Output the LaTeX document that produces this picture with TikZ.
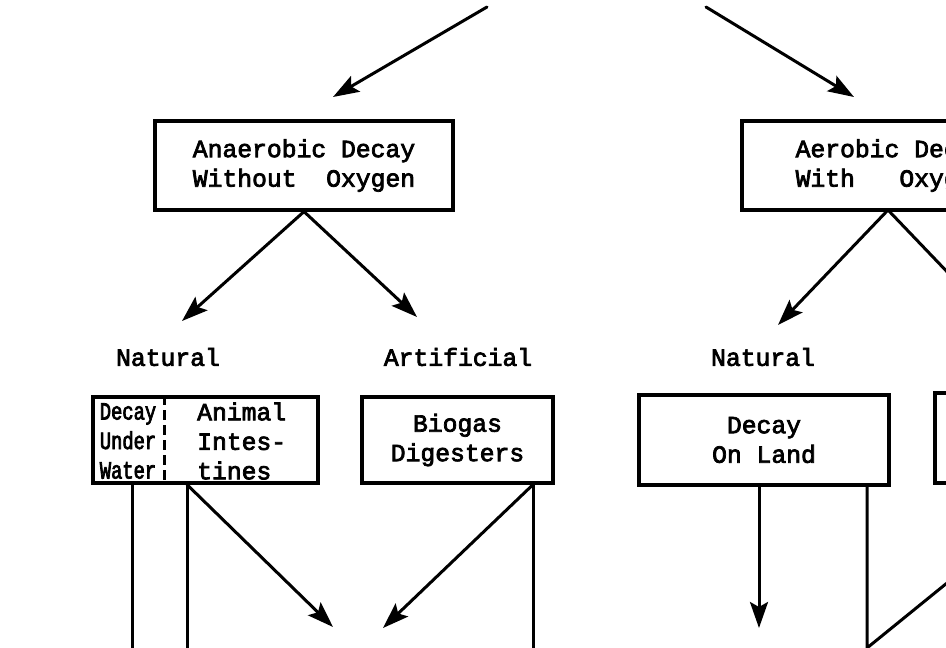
\documentclass[tikz,border=0pt]{standalone}
\usepackage{fontspec}
\setmonofont{Liberation Mono}
\newfontfamily\tyfam[FakeBold=3]{Liberation Mono}
\newfontfamily\tynarrow[FakeBold=3,FakeStretch=0.76]{Liberation Mono}
\usetikzlibrary{arrows.meta}
\newcommand{\tyfont}{\tyfam\fontsize{24.7pt}{29.5pt}\selectfont}
\newcommand{\tynfont}{\tynarrow\fontsize{24.7pt}{29.5pt}\selectfont}
\begin{document}
\begin{tikzpicture}[x=1pt,y=-1pt,
  conn/.style={line width=3pt, line cap=round},
  arr/.style={conn, -{Stealth[length=26pt,width=18pt,inset=5pt]}},
  box/.style={draw, line width=3.2pt, font=\tyfont, align=center, inner sep=0pt},
  lbl/.style={font=\tyfont, inner sep=0pt},
  divider/.style={line width=3pt, dash pattern=on 10pt off 5pt}]
\useasboundingbox (0,0) rectangle (946,648);
\clip (0,0) rectangle (946,648);

% top level boxes
\node[box, minimum width=298pt, minimum height=89pt] (anaer) at (304,165.5) {Anaerobic Decay\\Without\ \ Oxygen};
\node[box, minimum width=300pt, minimum height=89pt] (aer) at (892,165.5) {Aerobic Decay\\With\ \ \ Oxygen};

% labels
\node[lbl] (natA) at (168,357) {Natural};
\node[lbl] (artA) at (458,357) {Artificial};
\node[lbl] (natB) at (763,357) {Natural};

% second level boxes
\node[box, minimum width=225pt, minimum height=86pt] (split) at (205.5,440) {};
\node[lbl, font=\tynfont, align=center] (uw) at (128,441) {Decay\\Under\\Water};
\node[lbl, align=left, anchor=west] (ai) at (197,441) {Animal\\Intes-\\tines};
\coordinate (divx) at (164,440);
\draw[divider] (divx |- split.north) -- (divx |- split.south);

\node[box, minimum width=191pt, minimum height=86pt] (bio) at (457.5,440) {Biogas\\Digesters};
\node[box, minimum width=250pt, minimum height=90pt] (land) at (764,440) {Decay\\On Land};
\node[box, minimum width=300pt, minimum height=90pt] (art2) at (1085,438) {};

% top arrows
\coordinate (t1) at (487,7);
\coordinate (t1e) at (333,97);
\coordinate (t2) at (706,7);
\coordinate (t2e) at (854,97);
\draw[arr] (t1) -- (t1e);
\draw[arr] (t2) -- (t2e);

% arrows from first level boxes
\coordinate (natAtip) at (182,321);
\coordinate (artAtip) at (417,317);
\coordinate (natBtip) at (778,325);
\coordinate (artBtip) at (998,325);
\coordinate (apexB) at (888,210);
\draw[arr] (anaer.south) -- (natAtip);
\draw[arr] (anaer.south) -- (artAtip);
\draw[arr] (apexB) -- (natBtip);
\draw[arr] (apexB) -- (artBtip);

% lower connectors, anaerobic side
\coordinate (v1) at (132,648);
\coordinate (v2) at (187,648);
\coordinate (v3) at (533,648);
\coordinate (m1) at (333,627);
\coordinate (m2) at (383,628);
\draw[conn] (v1 |- split.south) -- (v1);
\draw[conn] (v2 |- split.south) -- (v2);
\draw[arr] (v2 |- split.south) -- (m1);
\draw[conn] (v3 |- bio.south) -- (v3);
\draw[arr] (v3 |- bio.south) -- (m2);

% lower connectors, aerobic side
\coordinate (w1) at (759,628);
\coordinate (w2) at (867,648);
\coordinate (w3) at (963,570);
\draw[arr] (w1 |- land.south) -- (w1);
\draw[conn, line cap=butt] (w2 |- land.south) -- (w2) -- (w3);
\end{tikzpicture}
\end{document}
